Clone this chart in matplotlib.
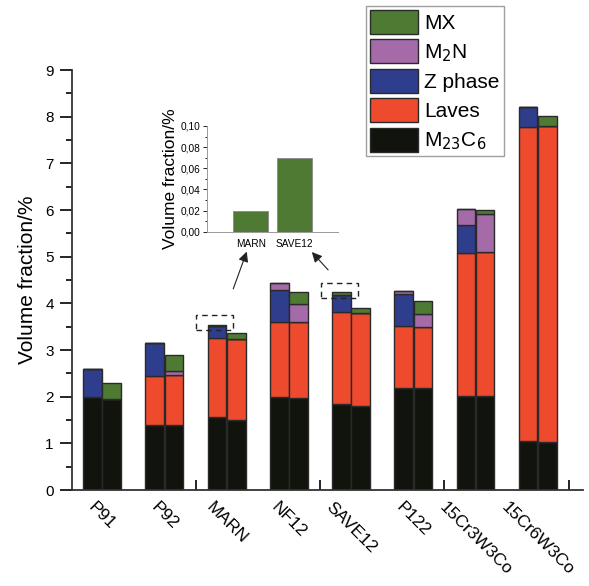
import numpy as np
import matplotlib
matplotlib.use('Agg')
from matplotlib import pyplot as plt
from matplotlib.patches import Rectangle

plt.rcParams['font.family'] = ['Liberation Sans', 'DejaVu Sans']

steels = ['P91', 'P92', 'MARN', 'NF12', 'SAVE12', 'P122', '15Cr3W3Co', '15Cr6W3Co']

# left bar of every pair
m23c6_a = [1.99, 1.40, 1.56, 1.99, 1.84, 2.19, 2.01, 1.04]
laves_a = [0.00, 1.04, 1.70, 1.62, 1.97, 1.32, 3.07, 6.74]
zphase_a = [0.60, 0.70, 0.26, 0.67, 0.36, 0.68, 0.59, 0.42]
m2n_a = [0.00, 0.00, 0.00, 0.16, 0.00, 0.08, 0.35, 0.00]
mx_a = [0.00, 0.00, 0.02, 0.00, 0.07, 0.00, 0.00, 0.00]

# right bar of every pair
m23c6_b = [1.95, 1.39, 1.51, 1.97, 1.81, 2.18, 2.01, 1.03]
laves_b = [0.00, 1.08, 1.72, 1.62, 1.98, 1.32, 3.08, 6.76]
zphase_b = [0.00, 0.00, 0.00, 0.00, 0.00, 0.00, 0.00, 0.00]
m2n_b = [0.00, 0.07, 0.00, 0.40, 0.00, 0.28, 0.82, 0.00]
mx_b = [0.34, 0.36, 0.14, 0.25, 0.12, 0.28, 0.08, 0.22]

phase_names = ['M$_{23}$C$_6$', 'Laves', 'Z phase', 'M$_2$N', 'MX']
phase_colors = ['#10140c', '#ee4a2e', '#2e3d8c', '#a56aa8', '#4e7a33']

inset_steels = ['MARN', 'SAVE12']
inset_mx = [0.02, 0.07]
inset_ticks = [0.00, 0.02, 0.04, 0.06, 0.08, 0.10]
inset_ticklabels = ['0,00', '0,02', '0,04', '0,06', '0,08', '0,10']

fig = plt.figure(figsize=(5.89, 5.86), dpi=100)
ax = fig.add_axes([0.1217, 0.1638, 0.8673, 0.7167])

x = np.arange(len(steels))
w = 0.3
off = 0.155
edge = '#2a2a2a'

for xs, stack in [(x - off, [m23c6_a, laves_a, zphase_a, m2n_a, mx_a]),
                  (x + off, [m23c6_b, laves_b, zphase_b, m2n_b, mx_b])]:
    bottom = np.zeros(len(steels))
    for vals, name, col in zip(stack, phase_names, phase_colors):
        vals = np.array(vals)
        ax.bar(xs, vals, w, bottom=bottom, color=col, edgecolor=edge, linewidth=1.0,
               label=name if xs[0] < 0 else None)
        bottom = bottom + vals

ax.set_xlim(-0.49, 7.72)
ax.set_ylim(0, 9)
ax.set_yticks(np.arange(0, 10, 1))
ax.set_yticks(np.arange(0.5, 9, 1), minor=True)
ax.tick_params(axis='y', which='major', direction='out', length=9, width=1.2, labelsize=11, pad=4)
ax.tick_params(axis='y', which='minor', direction='out', length=4, width=1.2)
ax.set_ylabel('Volume fraction/%', fontsize=15, labelpad=6)

ax.set_xticks(x)
ax.set_xticklabels(steels, rotation=-45, ha='center', va='top', fontsize=12.5)
ax.tick_params(axis='x', which='major', length=0, pad=7)
ax.set_xticks([1.5, 3.5, 5.5, 7.5], minor=True)
ax.tick_params(axis='x', which='minor', direction='in', length=7, width=1.2)

for s in ['top', 'right']:
    ax.spines[s].set_visible(False)
for s in ['left', 'bottom']:
    ax.spines[s].set_color('#333333')
    ax.spines[s].set_linewidth(1.3)

handles, labels = ax.get_legend_handles_labels()
leg = fig.legend(handles[::-1], labels[::-1], loc='upper left',
                 bbox_to_anchor=(0.621, 0.99), fontsize=15, frameon=True,
                 fancybox=False, edgecolor='#888888', handlelength=2.3,
                 handleheight=1.4, labelspacing=0.25, handletextpad=0.3,
                 borderpad=0.2, borderaxespad=0)
leg.get_frame().set_linewidth(1.0)

# dashed boxes round the tiny MX parts
tops_a = np.array(m23c6_a) + laves_a + zphase_a + m2n_a + mx_a
for name in inset_steels:
    i = steels.index(name)
    ax.add_patch(Rectangle((x[i] - off - 0.33, tops_a[i] - 0.12), 0.59, 0.32,
                           fill=False, ls=(0, (4, 3)), lw=1.0, ec='#222222'))

# inset
axi = fig.add_axes([0.352, 0.6046, 0.222, 0.1804])
axi.patch.set_alpha(0)
axi.bar([1, 2], inset_mx, 0.8, color=phase_colors[4], edgecolor='#888888', linewidth=0.6)
axi.set_xlim(0, 3)
axi.set_ylim(0, 0.1)
axi.set_xticks([1, 2])
axi.set_xticklabels(inset_steels, fontsize=7.3)
axi.tick_params(axis='x', length=0, pad=5)
axi.set_yticks(inset_ticks)
axi.set_yticklabels(inset_ticklabels, fontsize=7.3)
axi.set_yticks(np.arange(0.01, 0.1, 0.02), minor=True)
axi.tick_params(axis='y', which='major', direction='out', length=3, width=0.6, pad=2)
axi.tick_params(axis='y', which='minor', direction='out', length=1.5, width=0.6)
axi.set_ylabel('Volume fraction/%', fontsize=12.5, labelpad=2)
for s in ['top', 'right']:
    axi.spines[s].set_visible(False)
for s in ['left', 'bottom']:
    axi.spines[s].set_color('#999999')
    axi.spines[s].set_linewidth(0.7)

arrow = dict(arrowstyle='-|>', color='#222222', lw=0.8, mutation_scale=15)
ax.annotate('', xy=(247.7 / 589, 1 - 249 / 586), xycoords='figure fraction',
            xytext=(232.3 / 589, 1 - 291.5 / 586), textcoords='figure fraction',
            arrowprops=arrow)
ax.annotate('', xy=(310 / 589, 1 - 250 / 586), xycoords='figure fraction',
            xytext=(330 / 589, 1 - 272 / 586), textcoords='figure fraction',
            arrowprops=arrow)

fig.savefig('out.png', dpi=100)
